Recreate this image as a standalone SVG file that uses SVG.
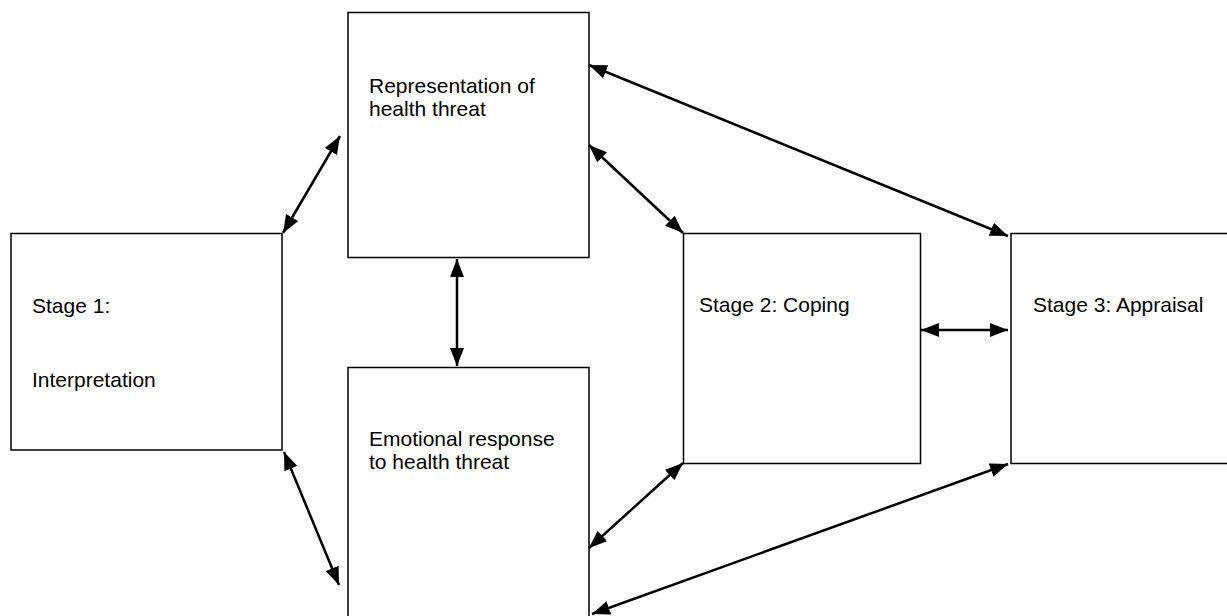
<svg xmlns="http://www.w3.org/2000/svg" width="1227" height="616" viewBox="0 0 1227 616">
  <style>
    .box { fill: #ffffff; stroke: #000000; stroke-width: 1.5; }
    .label { font-family: "Liberation Sans", Arial, sans-serif; font-size: 21px; fill: #000000; }
    .link { stroke: #000000; stroke-width: 2.5; fill: none; marker-start: url(#head); marker-end: url(#head); }
  </style>
  <defs>
    <marker id="head" viewBox="0 0 18 14" refX="18" refY="7" markerWidth="18" markerHeight="14" markerUnits="userSpaceOnUse" orient="auto-start-reverse">
      <path d="M0,0 L18,7 L0,14 Z" fill="#000000"/>
    </marker>
  </defs>
  <rect width="1227" height="616" fill="#ffffff"/>

  <g id="stage1">
    <rect class="box" x="11" y="233.5" width="271" height="216.5"/>
    <text class="label" x="32" y="313">Stage 1:</text>
    <text class="label" x="32" y="387">Interpretation</text>
  </g>

  <g id="representation">
    <rect class="box" x="348" y="12.5" width="241" height="245"/>
    <text class="label" x="369" y="93">Representation of</text>
    <text class="label" x="369" y="116">health threat</text>
  </g>

  <g id="emotional-response">
    <rect class="box" x="348" y="367.5" width="241" height="260"/>
    <text class="label" x="369" y="446">Emotional response</text>
    <text class="label" x="369" y="469">to health threat</text>
  </g>

  <g id="stage2">
    <rect class="box" x="683.5" y="233.5" width="237" height="230"/>
    <text class="label" x="699" y="312">Stage 2: Coping</text>
  </g>

  <g id="stage3">
    <rect class="box" x="1011" y="233.5" width="240" height="230"/>
    <text class="label" x="1033" y="312">Stage 3: Appraisal</text>
  </g>

  <g id="connectors">
    <line class="link" x1="283" y1="233" x2="340" y2="136"/>
    <line class="link" x1="284" y1="452" x2="339" y2="585"/>
    <line class="link" x1="457" y1="259" x2="457" y2="366"/>
    <line class="link" x1="589" y1="145" x2="683" y2="233"/>
    <line class="link" x1="589" y1="65" x2="1008" y2="236"/>
    <line class="link" x1="589" y1="548" x2="683" y2="463"/>
    <line class="link" x1="592" y1="614" x2="1008" y2="464"/>
    <line class="link" x1="921" y1="330" x2="1008" y2="330"/>
  </g>
</svg>
